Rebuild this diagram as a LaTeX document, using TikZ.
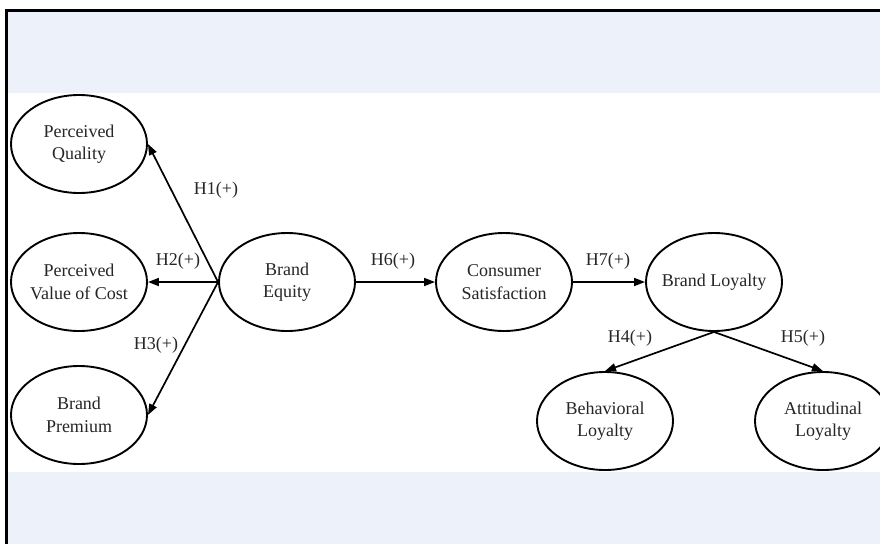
\documentclass[tikz,border=0pt]{standalone}
\usepackage{fontspec}
\setmainfont{Liberation Serif}
\usetikzlibrary{shapes.geometric,arrows.meta}
\definecolor{bandblue}{HTML}{EDF1F9}
\newcommand{\hfont}{\fontsize{18}{22.5}\selectfont}

\begin{document}
\begin{tikzpicture}[x=1pt, y=-1pt,
    construct/.style={ellipse, draw, line width=1.9pt, fill=white,
        minimum width=136pt, minimum height=98pt, inner xsep=-6pt, inner ysep=0pt,
        align=center, font=\hfont, text=black!85},
    hypo/.style={-{Triangle[length=11pt,width=8pt]}, line width=1.7pt},
    hlabel/.style={font=\hfont, text=black!85}]
    % Page, frame and bands
    \clip (0,0) rectangle (880,544);
    \fill[white] (0,0) rectangle (880,544);
    \fill[bandblue] (6,10) rectangle (880,93);
    \fill[bandblue] (6,472) rectangle (880,544);
    \draw[line width=3pt] (6,544) -- (6,10) -- (880,10);

    % Constructs
    \node[construct] (pq)  at (79,144)  {Perceived\\Quality};
    \node[construct] (pvc) at (79,282)  {Perceived\\Value of Cost};
    \node[construct] (bp)  at (79,415)  {Brand\\Premium};
    \node[construct] (be)  at (287,282) {Brand\\Equity};
    \node[construct] (cs)  at (504,282) {Consumer\\Satisfaction};
    \node[construct] (bl)  at (714,282) {Brand Loyalty};
    \node[construct] (beh) at (605,421) {Behavioral\\Loyalty};
    \node[construct] (att) at (823,421) {Attitudinal\\Loyalty};

    % Hypotheses
    \draw[hypo] (be.west) -- (pq.east);
    \draw[hypo] (be.west) -- (pvc.east);
    \draw[hypo] (be.west) -- (bp.east);
    \draw[hypo] (be.east) -- (cs.west);
    \draw[hypo] (cs.east) -- (bl.west);
    \draw[hypo] (bl.south) -- (beh.north);
    \draw[hypo] (bl.south) -- (att.north);

    % Labels
    \node[hlabel] (h1) at (216,190) {H1(+)};
    \node[hlabel] (h2) at (178,261) {H2(+)};
    \node[hlabel] (h3) at (156,345) {H3(+)};
    \node[hlabel] (h6) at (393,261) {H6(+)};
    \node[hlabel] (h7) at (608,261) {H7(+)};
    \node[hlabel] (h4) at (630,338) {H4(+)};
    \node[hlabel] (h5) at (803,338) {H5(+)};
\end{tikzpicture}
\end{document}
